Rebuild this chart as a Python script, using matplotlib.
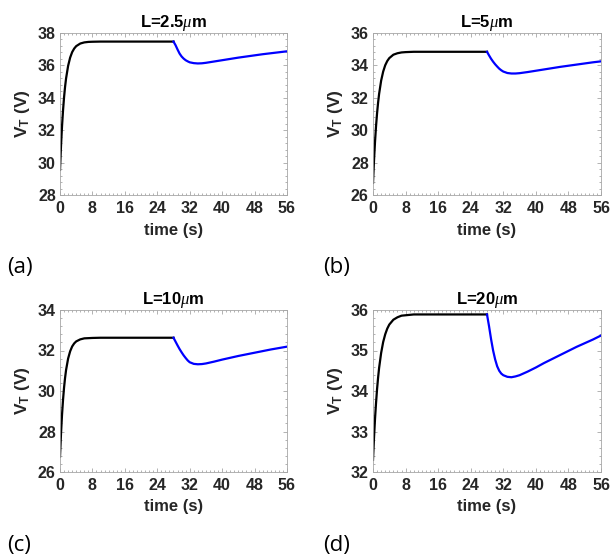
import matplotlib
matplotlib.use("Agg")
import matplotlib.pyplot as plt
from matplotlib.ticker import MultipleLocator

plt.rcParams['font.family'] = ['Liberation Sans', 'DejaVu Sans']
plt.rcParams['mathtext.fontset'] = 'custom'
plt.rcParams['mathtext.rm'] = 'Liberation Sans'
plt.rcParams['mathtext.bf'] = 'Liberation Sans:bold'
plt.rcParams['mathtext.it'] = 'Liberation Serif:italic'

# ---- data ----
t_rise = [0, 0.25, 0.5, 0.75, 1, 1.25, 1.5, 2, 2.5, 3, 3.5, 4, 5, 6, 7, 8, 10, 12, 16, 20, 24, 28]
t_fall = [28, 28.5, 29, 29.5, 30, 30.5, 31, 31.5, 32, 33, 34, 35, 36, 38, 40, 42, 44, 46, 48, 50, 52, 54, 56]

rise_a = [29.55, 31.04, 32.25, 33.23, 34.03, 34.68, 35.20, 35.97, 36.48, 36.82, 37.04, 37.19, 37.35, 37.42,
          37.45, 37.46, 37.47, 37.47, 37.47, 37.47, 37.47, 37.47]
fall_a = [37.47, 37.25, 36.98, 36.73, 36.55, 36.42, 36.32, 36.25, 36.19, 36.14, 36.12, 36.13, 36.16, 36.24,
          36.32, 36.40, 36.48, 36.55, 36.62, 36.69, 36.75, 36.81, 36.87]

rise_b = [26.75, 28.14, 29.30, 30.26, 31.05, 31.70, 32.24, 33.06, 33.62, 34.01, 34.27, 34.45, 34.66, 34.75,
          34.80, 34.82, 34.84, 34.84, 34.84, 34.84, 34.84, 34.84]
fall_b = [34.84, 34.62, 34.41, 34.23, 34.07, 33.93, 33.80, 33.70, 33.62, 33.53, 33.50, 33.50, 33.52, 33.59,
          33.67, 33.75, 33.83, 33.91, 33.98, 34.05, 34.12, 34.19, 34.25]

rise_c = [26.76, 27.90, 28.83, 29.57, 30.17, 30.65, 31.04, 31.60, 31.96, 32.20, 32.35, 32.45, 32.55, 32.60,
          32.61, 32.62, 32.63, 32.63, 32.63, 32.63, 32.63, 32.63]
fall_c = [32.63, 32.44, 32.25, 32.07, 31.91, 31.76, 31.63, 31.51, 31.42, 31.34, 31.32, 31.33, 31.36, 31.45,
          31.55, 31.64, 31.73, 31.81, 31.89, 31.97, 32.05, 32.12, 32.19]

rise_d = [32.30, 32.85, 33.32, 33.71, 34.05, 34.33, 34.57, 34.94, 35.21, 35.40, 35.54, 35.64, 35.76, 35.82,
          35.86, 35.87, 35.89, 35.89, 35.89, 35.89, 35.89, 35.89]
fall_d = [35.89, 35.60, 35.28, 35.00, 34.78, 34.61, 34.50, 34.43, 34.39, 34.35, 34.34, 34.36, 34.39, 34.48,
          34.58, 34.69, 34.79, 34.89, 34.99, 35.09, 35.18, 35.27, 35.37]

titles = ['L=2.5$\\mu$m', 'L=5$\\mu$m', 'L=10$\\mu$m', 'L=20$\\mu$m']
panel_tags = ['(a)', '(b)', '(c)', '(d)']
ylims = [(28, 38), (26, 36), (26, 34), (32, 36)]
ysteps = [2, 2, 2, 1]
xticks = [0, 8, 16, 24, 32, 40, 48, 56]

rises = [rise_a, rise_b, rise_c, rise_d]
falls = [fall_a, fall_b, fall_c, fall_d]

W, H = 611, 556
fig = plt.figure(figsize=(W / 100, H / 100), dpi=100)

# axes boxes in pixels: (left, top, right, bottom)
boxes = [(60, 33, 287, 195), (373, 33, 601, 195), (60, 310, 287, 472), (373, 310, 601, 472)]
tag_pos = [(7, 268), (323, 268), (7, 546), (323, 546)]

spine_col = '#a6a6a6'
txt_col = '#262626'

for i in range(4):
    l, t, r, b = boxes[i]
    ax = fig.add_axes([l / W, 1 - b / H, (r - l) / W, (b - t) / H])
    ax.plot(t_rise, rises[i], color='black', lw=1.6, solid_joinstyle='round')
    ax.plot(t_fall, falls[i], color='#0000ff', lw=1.6, solid_joinstyle='round')
    ax.set_xlim(0, 56)
    ax.set_ylim(*ylims[i])
    ax.set_xticks(xticks)
    ax.yaxis.set_major_locator(MultipleLocator(ysteps[i]))
    ax.xaxis.set_minor_locator(MultipleLocator(1))
    ax.yaxis.set_minor_locator(MultipleLocator(ysteps[i] / 5))
    for s in ax.spines.values():
        s.set_color(spine_col)
        s.set_linewidth(0.6)
    ax.tick_params(which='both', direction='in', top=True, right=True, color=spine_col,
                   labelcolor=txt_col, labelsize=11.5, width=0.6)
    ax.tick_params(axis='x', which='major', pad=4)
    ax.tick_params(axis='y', which='major', pad=3)
    ax.tick_params(which='major', length=3)
    ax.tick_params(which='minor', length=1.5)
    for lab in ax.get_xticklabels() + ax.get_yticklabels():
        lab.set_fontweight('bold')
    ax.set_xlabel('time (s)', fontsize=12, fontweight='bold', color=txt_col, labelpad=5)
    ax.set_ylabel('$\\mathbf{V_T}$ (V)', fontsize=12.5, fontweight='bold', color=txt_col, labelpad=4)
    ax.set_title(titles[i], fontsize=12, fontweight='bold', color='black', pad=3)
    fig.text(tag_pos[i][0] / W, 1 - tag_pos[i][1] / H, panel_tags[i], fontsize=16,
             family=['Open Sans', 'DejaVu Sans'], va='center', ha='left', color='black')

fig.savefig('out.png', dpi=100)
